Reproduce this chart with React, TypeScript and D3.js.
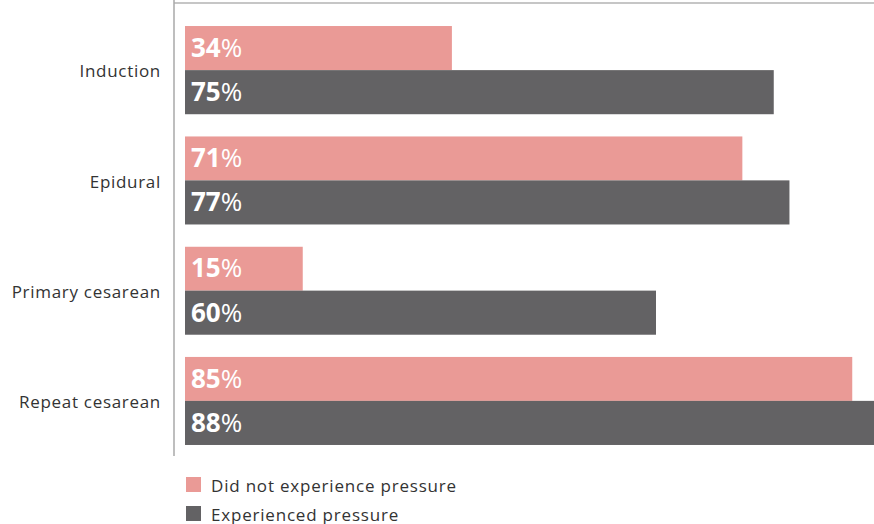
import React from "react";
import * as d3 from "d3";

const categories = ["Induction", "Epidural", "Primary cesarean", "Repeat cesarean"];
const seriesNames = ["Did not experience pressure", "Experienced pressure"];
const notPressured = [34, 71, 15, 85];
const pressured = [75, 77, 60, 88];
const seriesColors = ["#EA9A96", "#636264"];

const W = 874;
const H = 524;
const FONT = "'Open Sans', 'Noto Sans', sans-serif";

export default function App() {
  const x = d3.scaleLinear().domain([0, 100]).range([185, 185 + 785]);
  const y = d3
    .scaleBand<string>()
    .domain(categories)
    .range([15, 456])
    .paddingInner(0.2)
    .paddingOuter(0.1);
  const ys = d3
    .scaleBand<string>()
    .domain(seriesNames)
    .range([0, y.bandwidth()]);
  const values = [notPressured, pressured];

  return (
    <svg
      width={W}
      height={H}
      style={{ position: "absolute", left: 0, top: 0, background: "#fff" }}
      fontFamily={FONT}
    >
      <defs>
        <clipPath id="plot">
          <rect x={0} y={0} width={W} height={H} />
        </clipPath>
      </defs>
      {/* top rule */}
      <line x1={174} x2={W} y1={3} y2={3} stroke="#b3b3b3" strokeWidth={1.5} />
      {/* vertical axis */}
      <line x1={174} x2={174} y1={0} y2={456} stroke="#a8a8a8" strokeWidth={1.5} />

      {categories.map((c, i) => (
        <g key={c} transform={`translate(0,${y(c)})`}>
          <text
            x={161}
            y={y.bandwidth() / 2}
            dy="0.43em"
            textAnchor="end"
            fontSize={17}
            letterSpacing={0.7}
            fill="#333"
          >
            {c}
          </text>
          {seriesNames.map((s, j) => {
            const v = values[j][i];
            const y0 = ys(s) as number;
            return (
              <g key={s} clipPath="url(#plot)">
                <rect
                  x={x(0)}
                  y={y0}
                  width={x(v) - x(0)}
                  height={ys.bandwidth()}
                  fill={seriesColors[j]}
                />
                <text
                  x={x(0) + 6}
                  y={y0 + ys.bandwidth() / 2}
                  dy="0.34em"
                  fontSize={26}
                  fill="#fff"
                >
                  <tspan fontWeight={700}>{v}</tspan>
                  <tspan fontWeight={400}>%</tspan>
                </text>
              </g>
            );
          })}
        </g>
      ))}

      {/* legend */}
      {seriesNames.map((s, j) => (
        <g key={s} transform={`translate(186,${477 + j * 29})`}>
          <rect width={15} height={15} fill={seriesColors[j]} />
          <text x={25} y={14.5} fontSize={17} letterSpacing={0.8} fill="#333">
            {s}
          </text>
        </g>
      ))}
    </svg>
  );
}
